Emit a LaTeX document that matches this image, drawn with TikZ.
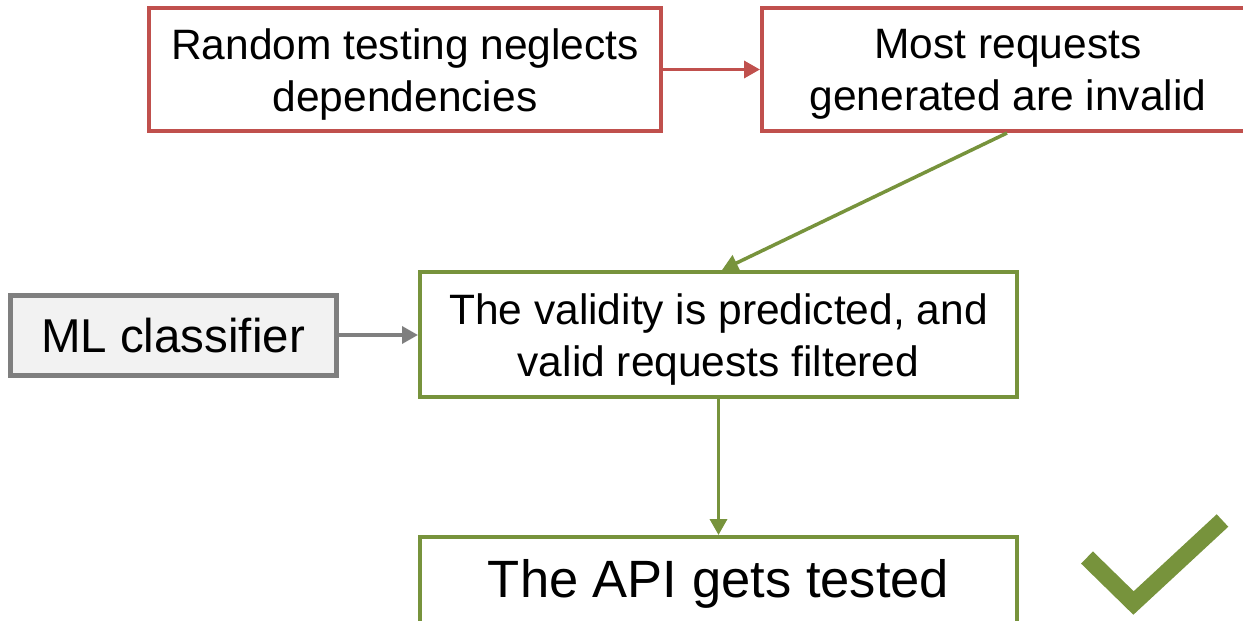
\documentclass[tikz,border=0pt]{standalone}
\usepackage{fontspec}
\setmainfont{Liberation Sans}
\usetikzlibrary{arrows.meta}
\definecolor{boxred}{HTML}{C0504D}
\definecolor{boxgreen}{HTML}{77933C}
\definecolor{boxgray}{HTML}{7F7F7F}
\definecolor{boxfill}{HTML}{F2F2F2}
\tikzset{
  flowbox/.style={draw, line width=4pt, fill=white, inner sep=0pt},
  redbox/.style={flowbox, draw=boxred},
  greenbox/.style={flowbox, draw=boxgreen},
  graybox/.style={flowbox, draw=boxgray, line width=5pt, fill=boxfill},
  % box caption, set slightly below the geometric centre
  caption/.style={label={[align=center, inner sep=0pt, yshift=-5pt,
    font=\fontsize{42.5}{52}\selectfont]center:#1}},
  flowarrow/.style={line width=3.5pt, -{Triangle[length=16pt,width=17pt]}},
}
\begin{document}
\begin{tikzpicture}[x=1pt,y=-1pt]
\useasboundingbox (0,0) rectangle (1243,621);
\clip (0,0) rectangle (1243,621);
% top row: the problem
\node[redbox, minimum width=512pt, minimum height=123pt,
  caption={Random testing neglects\\dependencies}] (rand) at (405,69.5) {};
\node[redbox, minimum width=492pt, minimum height=123pt,
  caption={Most requests\\generated are invalid}] (most) at (1008,69.5) {};
% middle row: filtering with the classifier
\node[greenbox, minimum width=597pt, minimum height=125pt,
  caption={The validity is predicted, and\\valid requests filtered}] (valid) at (718.5,334.5) {};
\node[graybox, minimum width=326pt, minimum height=80pt,
  label={[inner sep=0pt, yshift=-1pt, font=\fontsize{47.5}{54}\selectfont]center:ML classifier}]
  (ml) at (173,335) {};
% bottom: the outcome
\node[greenbox, minimum width=597pt, minimum height=90pt,
  label={[inner sep=0pt, yshift=-2pt, font=\fontsize{52.5}{60}\selectfont]center:The API gets tested}]
  (api) at (718.5,582) {};
% connectors
\draw[flowarrow, boxred] (rand.east) -- (most.west);
\draw[flowarrow, boxgreen] ([xshift=-1pt]most.south) -- ([xshift=3.5pt]valid.north);
\draw[flowarrow, boxgray] (ml.east) -- (valid.west |- ml.east);
\draw[flowarrow, boxgreen] (valid.south) -- (api.north);
% check mark
\draw[boxgreen, line width=17pt, line join=miter, line cap=butt]
  (1087,557.5) -- (1133.5,603) -- (1222.5,520.5);
\end{tikzpicture}
\end{document}
